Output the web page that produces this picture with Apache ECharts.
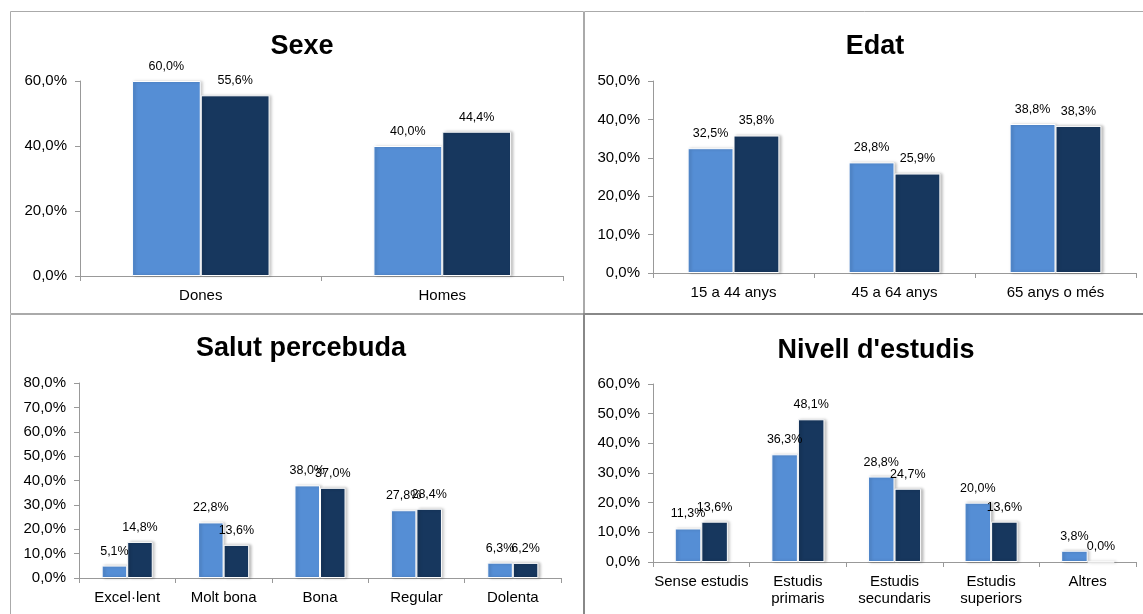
<!DOCTYPE html>
<html>
	<head>
		<meta charset="utf-8" />
		<title></title>
		<script src="https://cdn.jsdelivr.net/npm/echarts@6/dist/echarts.min.js"></script>
		<style>
			body { margin: 0; background: #fff; }
		</style>
	</head>
	<body>
		<div id="main" style="width: 1143px;height: 614px;"></div>
		<script type="text/javascript">
			// dades
			var sexeCats = ['Dones', 'Homes'];
			var sexeA = [60.0, 40.0];
			var sexeB = [55.6, 44.4];

			var edatCats = ['15 a 44 anys', '45 a 64 anys', '65 anys o més'];
			var edatA = [32.5, 28.8, 38.8];
			var edatB = [35.8, 25.9, 38.3];

			var salutCats = ['Excel·lent', 'Molt bona', 'Bona', 'Regular', 'Dolenta'];
			var salutA = [5.1, 22.8, 38.0, 27.8, 6.3];
			var salutB = [14.8, 13.6, 37.0, 28.4, 6.2];

			var estudisCats = ['Sense estudis', 'Estudis\nprimaris', 'Estudis\nsecundaris', 'Estudis\nsuperiors', 'Altres'];
			var estudisA = [11.3, 36.3, 28.8, 20.0, 3.8];
			var estudisB = [13.6, 48.1, 24.7, 13.6, 0.0];

			var titles = ['Sexe', 'Edat', 'Salut percebuda', "Nivell d'estudis"];
			var yMax = [60, 50, 80, 60];
			var yStep = [20, 10, 10, 10];

			var FONT = "'Liberation Sans', Arial, sans-serif";
			var light = '#558ed5';
			var dark = '#17375e';

			function pct(v) {
				return v.toFixed(1).replace('.', ',') + '%';
			}

			var grids = [
				{left: 80, top: 81, width: 483, height: 195},
				{left: 653, top: 81, width: 483, height: 192},
				{left: 79, top: 383, width: 482, height: 195},
				{left: 653, top: 384, width: 483, height: 178}
			];
			var titlePos = [[297, 28], [870, 28], [296, 330], [871, 332]];
			var cats = [sexeCats, edatCats, salutCats, estudisCats];
			var dataA = [sexeA, edatA, salutA, estudisA];
			var dataB = [sexeB, edatB, salutB, estudisB];
			var gaps = ['43%', '43%', '47%', '45%'];

			var title = [], xAxis = [], yAxis = [], series = [];
			for (var i = 0; i < 4; i++) {
				title.push({
					text: titles[i],
					left: titlePos[i][0],
					top: titlePos[i][1],
					textAlign: 'center',
					textStyle: {fontFamily: FONT, fontSize: 27, fontWeight: 'bold', color: '#000'}
				});
				xAxis.push({
					type: 'category',
					gridIndex: i,
					data: cats[i],
					axisLine: {lineStyle: {color: '#999'}},
					axisTick: {show: true, length: 5, lineStyle: {color: '#999'}},
					axisLabel: {fontFamily: FONT, fontSize: 15, color: '#000', margin: 11, lineHeight: 17, interval: 0}
				});
				yAxis.push({
					type: 'value',
					gridIndex: i,
					min: 0,
					max: yMax[i],
					interval: yStep[i],
					splitLine: {show: false},
					axisLine: {show: true, lineStyle: {color: '#999'}},
					axisTick: {show: true, length: 5, lineStyle: {color: '#999'}},
					axisLabel: {fontFamily: FONT, fontSize: 15, color: '#000', margin: 13, formatter: pct}
				});
				[dataA[i], dataB[i]].forEach(function (d, k) {
					series.push({
						type: 'bar',
						name: k === 0 ? 'Sèrie 1' : 'Sèrie 2',
						xAxisIndex: i,
						yAxisIndex: i,
						data: d,
						barGap: '0%',
						barCategoryGap: gaps[i],
						itemStyle: {
							color: k === 0 ? light : dark,
							borderColor: '#fff',
							borderWidth: 1,
							shadowColor: 'rgba(0,0,0,0.25)',
							shadowBlur: 3,
							shadowOffsetX: 2
						},
						label: {
							show: true,
							position: 'top',
							distance: 8,
							fontFamily: FONT,
							fontSize: 12.5,
							color: '#000',
							formatter: function (p) { return pct(p.value); }
						}
					});
				});
			}

			var myChart = echarts.init(document.getElementById('main'));
			myChart.setOption({
				animation: false,
				title: title,
				grid: grids,
				xAxis: xAxis,
				yAxis: yAxis,
				series: series,
				graphic: [
					{type: 'rect', shape: {x: 10.5, y: 11.5, width: 573, height: 302}, style: {fill: 'none', stroke: '#aaa', lineWidth: 1}},
					{type: 'rect', shape: {x: 584.5, y: 11.5, width: 600, height: 302}, style: {fill: 'none', stroke: '#aaa', lineWidth: 1}},
					{type: 'rect', shape: {x: 10.5, y: 314.5, width: 573, height: 320}, style: {fill: 'none', stroke: '#aaa', lineWidth: 1}},
					{type: 'rect', shape: {x: 584, y: 314, width: 600, height: 320}, style: {fill: 'none', stroke: '#888', lineWidth: 2}}
				]
			});
		</script>
	</body>
</html>
